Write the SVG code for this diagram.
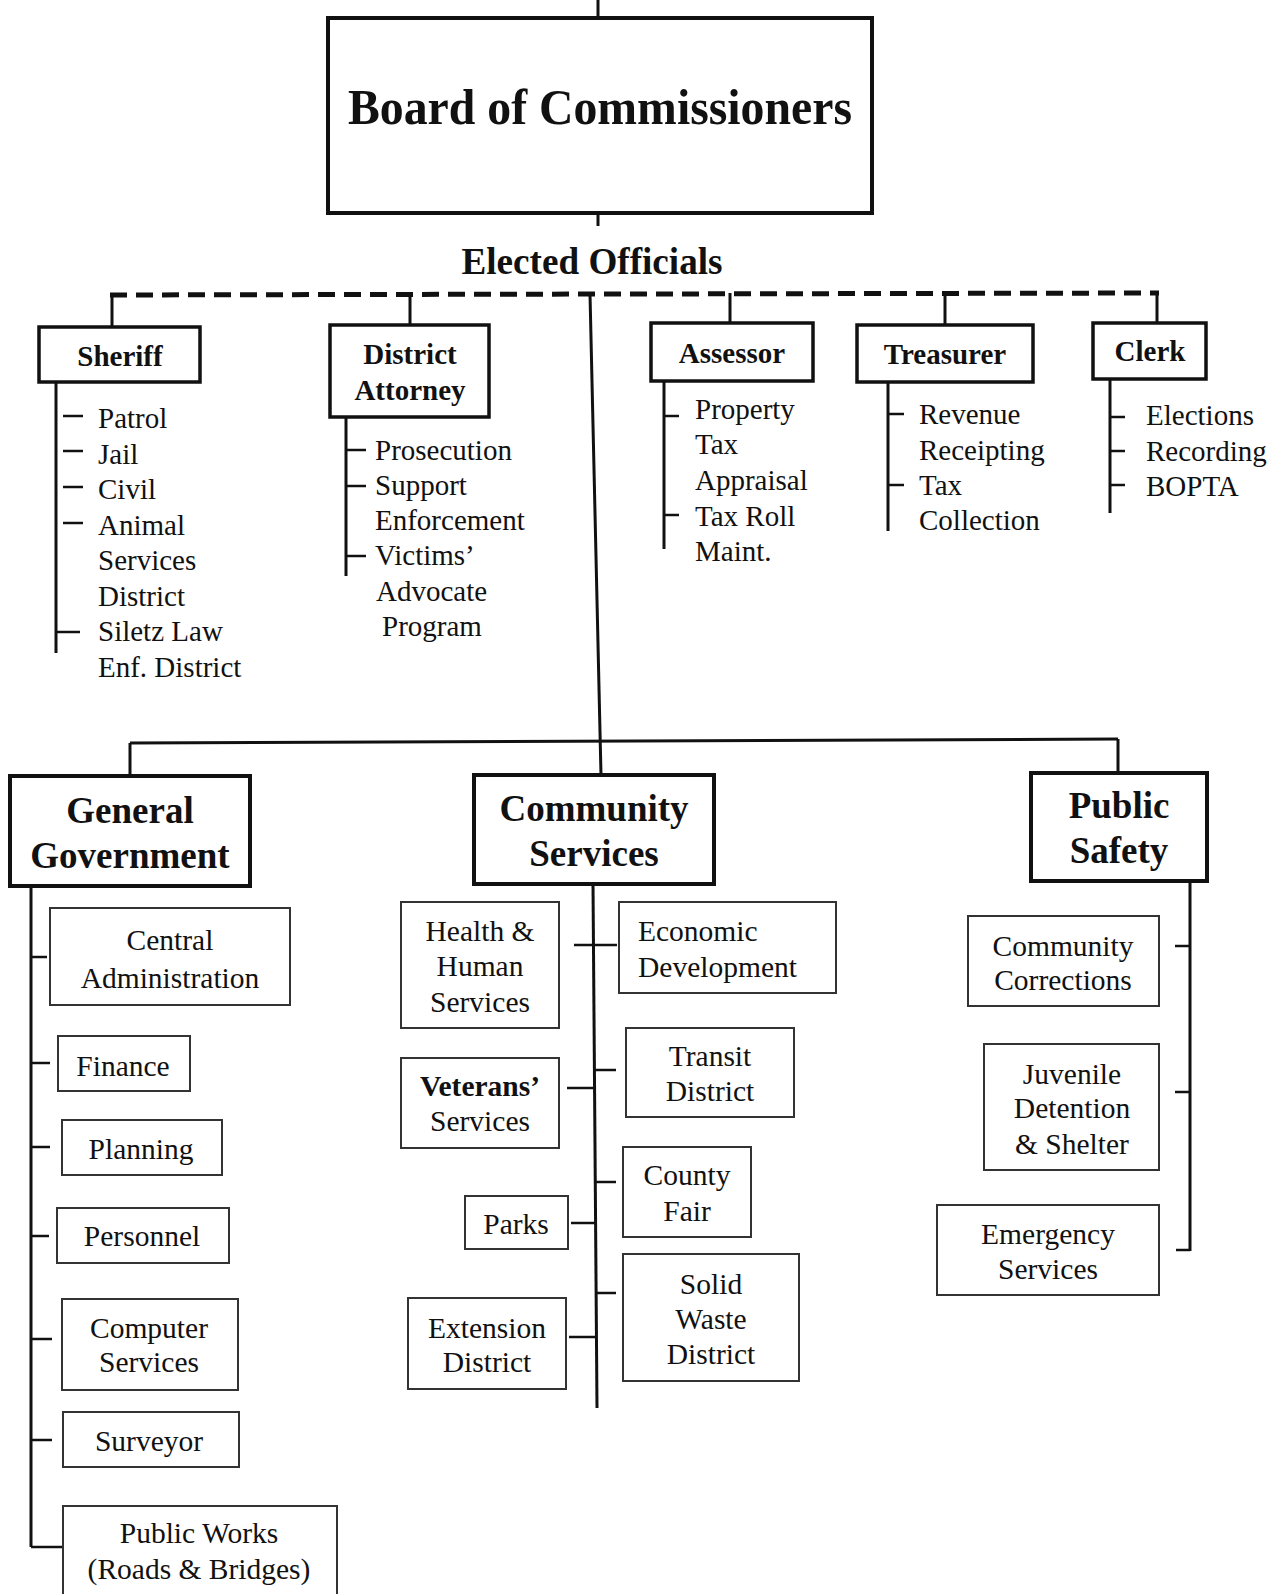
<svg xmlns="http://www.w3.org/2000/svg" width="1285" height="1594" viewBox="0 0 1285 1594">
<style>
text{font-family:"Liberation Serif","Times New Roman",serif;fill:#111;}
.h{font-weight:bold;font-size:29px;text-anchor:middle;}
.d{font-weight:bold;font-size:37px;text-anchor:middle;}
.l{font-size:29px;}
.b{font-size:29.5px;text-anchor:middle;}
.bs{font-size:29.5px;text-anchor:start;}
.hb{fill:#fff;stroke:#111;stroke-width:3.5;}
.db{fill:#fff;stroke:#111;stroke-width:4;}
.sb{fill:#fff;stroke:#333;stroke-width:2;}
.c{stroke:#111;stroke-width:3;fill:none;}
.t{stroke:#111;stroke-width:2.5;fill:none;}
</style>
<rect width="1285" height="1594" fill="#fff"/>
<g id="connectors">
<line class="c" x1="598" y1="0" x2="598" y2="18"/>
<line class="c" x1="598" y1="213" x2="598" y2="226"/>
<line x1="110" y1="295" x2="1159" y2="293" stroke="#111" stroke-width="5" stroke-dasharray="17 9"/>
<line class="c" x1="112" y1="293" x2="112" y2="327"/>
<line class="c" x1="410" y1="294" x2="410" y2="325"/>
<line class="c" x1="730" y1="293" x2="730" y2="323"/>
<line class="c" x1="945" y1="293" x2="945" y2="325"/>
<line class="c" x1="1157" y1="292" x2="1157" y2="323"/>
<line class="c" x1="590" y1="294" x2="601" y2="775"/>
<line class="c" x1="56" y1="382" x2="56" y2="653"/>
<line class="t" x1="63" y1="416" x2="83" y2="416"/>
<line class="t" x1="63" y1="451" x2="83" y2="451"/>
<line class="t" x1="63" y1="487" x2="83" y2="487"/>
<line class="t" x1="63" y1="523" x2="83" y2="523"/>
<line class="t" x1="56" y1="632" x2="80" y2="632"/>
<line class="c" x1="346" y1="417" x2="346" y2="576"/>
<line class="t" x1="346" y1="450" x2="366" y2="450"/>
<line class="t" x1="346" y1="486" x2="366" y2="486"/>
<line class="t" x1="346" y1="556" x2="366" y2="556"/>
<line class="c" x1="664" y1="381" x2="664" y2="549"/>
<line class="t" x1="664" y1="416" x2="679" y2="416"/>
<line class="t" x1="664" y1="515" x2="679" y2="515"/>
<line class="c" x1="888" y1="382" x2="888" y2="531"/>
<line class="t" x1="888" y1="414" x2="904" y2="414"/>
<line class="t" x1="888" y1="485" x2="904" y2="485"/>
<line class="c" x1="1110" y1="379" x2="1110" y2="513"/>
<line class="t" x1="1110" y1="417" x2="1125" y2="417"/>
<line class="t" x1="1110" y1="451" x2="1125" y2="451"/>
<line class="t" x1="1110" y1="485" x2="1125" y2="485"/>
<line class="c" x1="130" y1="743" x2="1118" y2="739"/>
<line class="c" x1="130" y1="743" x2="130" y2="776"/>
<line class="c" x1="1118" y1="739" x2="1118" y2="773"/>
<line class="c" x1="31" y1="886" x2="31" y2="1547"/>
<line class="t" x1="31" y1="957" x2="47" y2="957"/>
<line class="t" x1="31" y1="1063" x2="50" y2="1063"/>
<line class="t" x1="31" y1="1147" x2="50" y2="1147"/>
<line class="t" x1="31" y1="1236" x2="49" y2="1236"/>
<line class="t" x1="31" y1="1339" x2="52" y2="1339"/>
<line class="t" x1="31" y1="1440" x2="52" y2="1440"/>
<line class="t" x1="31" y1="1547" x2="63" y2="1547"/>
<line class="c" x1="593" y1="884" x2="597" y2="1408"/>
<line class="t" x1="574" y1="945" x2="617" y2="945"/>
<line class="t" x1="567" y1="1088" x2="594" y2="1088"/>
<line class="t" x1="571" y1="1223" x2="595" y2="1223"/>
<line class="t" x1="569" y1="1337" x2="596" y2="1337"/>
<line class="t" x1="595" y1="1070" x2="616" y2="1070"/>
<line class="t" x1="596" y1="1182" x2="616" y2="1182"/>
<line class="t" x1="596" y1="1293" x2="616" y2="1293"/>
<line class="c" x1="1190" y1="881" x2="1190" y2="1251"/>
<line class="t" x1="1175" y1="946" x2="1190" y2="946"/>
<line class="t" x1="1175" y1="1092" x2="1190" y2="1092"/>
<line class="t" x1="1176" y1="1250" x2="1190" y2="1250"/>
</g>
<g id="board"><rect class="db" x="328" y="18" width="544" height="195"/><text x="600" y="124" font-weight="bold" font-size="51" text-anchor="middle" textLength="504" lengthAdjust="spacingAndGlyphs">Board of Commissioners</text></g>
<g id="elected"><text x="592" y="274" font-weight="bold" font-size="37" text-anchor="middle" textLength="261" lengthAdjust="spacingAndGlyphs">Elected Officials</text></g>
<g id="sheriff"><rect class="hb" x="39" y="327" width="161" height="55"/><text class="h" x="120" y="366">Sheriff</text>
<text class="l" x="98" y="428">Patrol</text><text class="l" x="98" y="464">Jail</text><text class="l" x="98" y="499">Civil</text><text class="l" x="98" y="535">Animal</text><text class="l" x="98" y="570">Services</text><text class="l" x="98" y="606">District</text><text class="l" x="98" y="641">Siletz Law</text><text class="l" x="98" y="677">Enf. District</text></g>
<g id="district-attorney"><rect class="hb" x="330" y="325" width="159" height="92"/><text class="h" x="410" y="364">District</text><text class="h" x="410" y="400">Attorney</text>
<text class="l" x="375" y="460">Prosecution</text><text class="l" x="375" y="495">Support</text><text class="l" x="375" y="530">Enforcement</text><text class="l" x="375" y="565">Victims’</text><text class="l" x="376" y="601">Advocate</text><text class="l" x="382" y="636">Program</text></g>
<g id="assessor"><rect class="hb" x="651" y="323" width="162" height="58"/><text class="h" x="732" y="363">Assessor</text>
<text class="l" x="695" y="419">Property</text><text class="l" x="695" y="454">Tax</text><text class="l" x="695" y="490">Appraisal</text><text class="l" x="695" y="526">Tax Roll</text><text class="l" x="695" y="561">Maint.</text></g>
<g id="treasurer"><rect class="hb" x="857" y="325" width="176" height="57"/><text class="h" x="945" y="364">Treasurer</text>
<text class="l" x="919" y="424">Revenue</text><text class="l" x="919" y="460">Receipting</text><text class="l" x="919" y="495">Tax</text><text class="l" x="919" y="530">Collection</text></g>
<g id="clerk"><rect class="hb" x="1093" y="323" width="113" height="56"/><text class="h" x="1150" y="361">Clerk</text>
<text class="l" x="1146" y="425">Elections</text><text class="l" x="1146" y="461">Recording</text><text class="l" x="1146" y="496">BOPTA</text></g>
<g id="general-government"><rect class="db" x="10" y="776" width="240" height="110"/><text class="d" x="130" y="823">General</text><text class="d" x="130" y="868">Government</text></g>
<g id="community-services"><rect class="db" x="474" y="775" width="240" height="109"/><text class="d" x="594" y="821">Community</text><text class="d" x="594" y="866">Services</text></g>
<g id="public-safety"><rect class="db" x="1031" y="773" width="176" height="108"/><text class="d" x="1119" y="818">Public</text><text class="d" x="1119" y="863">Safety</text></g>
<g id="central-administration"><rect class="sb" x="50" y="908" width="240" height="97"/><text class="b" x="170" y="950" font-size="31">Central</text><text class="b" x="170" y="988" font-size="31">Administration</text></g>
<g id="finance"><rect class="sb" x="58" y="1036" width="132" height="55"/><text class="b" x="123" y="1076">Finance</text></g>
<g id="planning"><rect class="sb" x="62" y="1120" width="160" height="55"/><text class="b" x="141" y="1159">Planning</text></g>
<g id="personnel"><rect class="sb" x="57" y="1208" width="172" height="55"/><text class="b" x="142" y="1246">Personnel</text></g>
<g id="computer-services"><rect class="sb" x="62" y="1299" width="176" height="91"/><text class="b" x="149" y="1338">Computer</text><text class="b" x="149" y="1372">Services</text></g>
<g id="surveyor"><rect class="sb" x="63" y="1412" width="176" height="55"/><text class="b" x="149" y="1451">Surveyor</text></g>
<g id="public-works"><rect class="sb" x="63" y="1506" width="274" height="100"/><text class="b" x="199" y="1543">Public Works</text><text class="b" x="199" y="1579">(Roads &amp; Bridges)</text></g>
<g id="health-human-services"><rect class="sb" x="401" y="902" width="158" height="126"/><text class="b" x="480" y="941">Health &amp;</text><text class="b" x="480" y="976">Human</text><text class="b" x="480" y="1012">Services</text></g>
<g id="veterans-services"><rect class="sb" x="401" y="1058" width="158" height="90"/><text class="b" x="480" y="1096" font-weight="bold">Veterans’</text><text class="b" x="480" y="1131">Services</text></g>
<g id="parks"><rect class="sb" x="465" y="1196" width="103" height="53"/><text class="b" x="516" y="1234">Parks</text></g>
<g id="extension-district"><rect class="sb" x="408" y="1298" width="158" height="91"/><text class="b" x="487" y="1338">Extension</text><text class="b" x="487" y="1372">District</text></g>
<g id="economic-development"><rect class="sb" x="619" y="902" width="217" height="91"/><text class="bs" x="638" y="941">Economic</text><text class="bs" x="638" y="977">Development</text></g>
<g id="transit-district"><rect class="sb" x="626" y="1028" width="168" height="89"/><text class="b" x="710" y="1066">Transit</text><text class="b" x="710" y="1101">District</text></g>
<g id="county-fair"><rect class="sb" x="623" y="1147" width="128" height="90"/><text class="b" x="687" y="1185">County</text><text class="b" x="687" y="1221">Fair</text></g>
<g id="solid-waste-district"><rect class="sb" x="623" y="1254" width="176" height="127"/><text class="b" x="711" y="1294">Solid</text><text class="b" x="711" y="1329">Waste</text><text class="b" x="711" y="1364">District</text></g>
<g id="community-corrections"><rect class="sb" x="968" y="916" width="191" height="90"/><text class="b" x="1063" y="956">Community</text><text class="b" x="1063" y="990">Corrections</text></g>
<g id="juvenile-detention"><rect class="sb" x="984" y="1044" width="175" height="126"/><text class="b" x="1072" y="1084">Juvenile</text><text class="b" x="1072" y="1118">Detention</text><text class="b" x="1072" y="1154">&amp; Shelter</text></g>
<g id="emergency-services"><rect class="sb" x="937" y="1205" width="222" height="90"/><text class="b" x="1048" y="1244">Emergency</text><text class="b" x="1048" y="1279">Services</text></g>
</svg>
